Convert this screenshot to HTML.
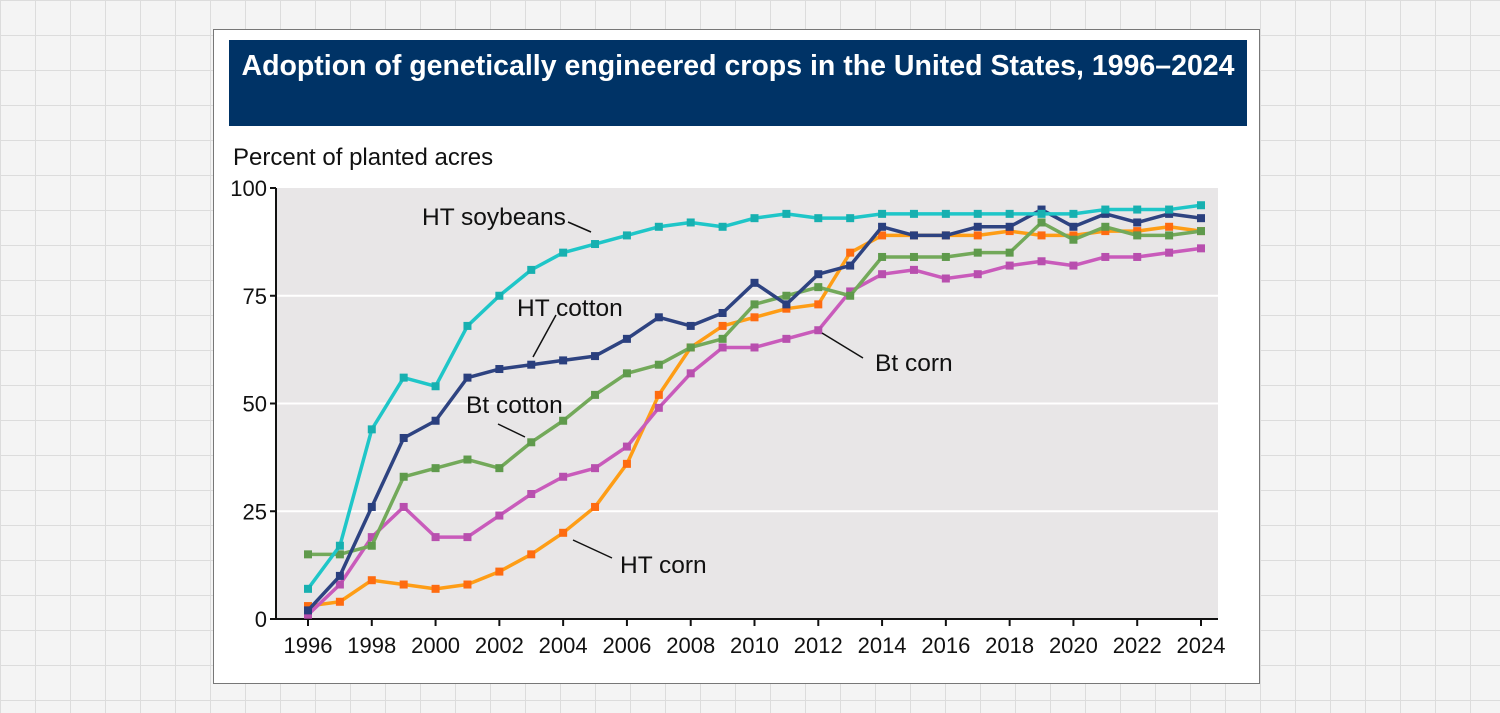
<!DOCTYPE html>
<html><head><meta charset="utf-8"><style>
body{margin:0;width:1500px;height:713px;overflow:hidden;background-color:#f4f4f4;background-image:linear-gradient(#dcdcdc 1px,transparent 1px),linear-gradient(90deg,#dcdcdc 1px,transparent 1px);background-size:35px 35px;font-family:"Liberation Sans",Arial,sans-serif;}
#card{position:absolute;left:213px;top:29px;width:1045px;height:653px;background:#fff;border:1px solid #777;}
#title{position:absolute;left:229px;top:40px;width:1018px;height:86px;background:#003366;color:#fff;font-weight:bold;font-size:28.5px;line-height:52px;text-align:center;white-space:nowrap;}
svg{position:absolute;left:0;top:0;}
</style></head><body>
<div id="card"></div>
<div id="title">Adoption of genetically engineered crops in the United States, 1996–2024</div>
<svg id="chart" width="1500" height="713"></svg>
<script>
const years=[1996,1997,1998,1999,2000,2001,2002,2003,2004,2005,2006,2007,2008,2009,2010,2011,2012,2013,2014,2015,2016,2017,2018,2019,2020,2021,2022,2023,2024];
const htSoybeans=[7,17,44,56,54,68,75,81,85,87,89,91,92,91,93,94,93,93,94,94,94,94,94,94,94,95,95,95,96];
const htCotton=[2,10,26,42,46,56,58,59,60,61,65,70,68,71,78,73,80,82,91,89,89,91,91,95,91,94,92,94,93];
const btCotton=[15,15,17,33,35,37,35,41,46,52,57,59,63,65,73,75,77,75,84,84,84,85,85,92,88,91,89,89,90];
const btCorn=[1,8,19,26,19,19,24,29,33,35,40,49,57,63,63,65,67,76,80,81,79,80,82,83,82,84,84,85,86];
const htCorn=[3,4,9,8,7,8,11,15,20,26,36,52,63,68,70,72,73,85,89,89,89,89,90,89,89,90,90,91,90];
const yTicks=[0,25,50,75,100];
const xTicks=[1996,1998,2000,2002,2004,2006,2008,2010,2012,2014,2016,2018,2020,2022,2024];
const NS='http://www.w3.org/2000/svg';
const svg=document.getElementById('chart');
const L=276,R=1218,T=188,B=619;
const x=y=>308+(y-1996)*(1201-308)/28;
const yv=v=>B-(v/100)*(B-T);
function el(t,a,p){const e=document.createElementNS(NS,t);for(const k in a)e.setAttribute(k,a[k]);(p||svg).appendChild(e);return e;}
const bg=el('rect',{x:L,y:T,width:R-L,height:B-T,fill:'#e8e6e7'});


yTicks.forEach(v=>{
  if(v>0&&v<100){const g=el('line',{x1:L,x2:R,y1:yv(v),y2:yv(v),stroke:'#fff','stroke-width':2});
  
  }
  const t=el('text',{x:L-9,y:yv(v)+8,'text-anchor':'end','font-size':22,fill:'#111'});t.textContent=v;
  
  
  el('line',{x1:L-6,x2:L,y1:yv(v),y2:yv(v),stroke:'#111','stroke-width':2});
});
xTicks.forEach(v=>{
  el('line',{x1:x(v),x2:x(v),y1:B,y2:B+7,stroke:'#111','stroke-width':2});
  const t=el('text',{x:x(v),y:B+34,'text-anchor':'middle','font-size':22,fill:'#111'});t.textContent=v;
  
  
});
el('line',{x1:L,x2:L,y1:T,y2:B+1,stroke:'#111','stroke-width':2});
el('line',{x1:L-1,x2:R,y1:B,y2:B,stroke:'#111','stroke-width':2});
const yt=el('text',{x:233,y:165,'font-size':24,fill:'#111'});yt.textContent='Percent of planted acres';


const series=[['ht-corn',htCorn,'#fe9d16','#fe6b10'],['bt-corn',btCorn,'#c95bbb','#b84fae'],['bt-cotton',btCotton,'#73a95a','#5f9a4c'],['ht-cotton',htCotton,'#2e4381','#2a3f7e'],['ht-soybeans',htSoybeans,'#1fc6c8','#17b0b0']];
series.forEach(([n,d,c,mc])=>{
  const g=el('g',{});
  
  
  el('polyline',{points:d.map((v,i)=>x(years[i])+','+yv(v)).join(' '),fill:'none',stroke:c,'stroke-width':3.5,'stroke-linejoin':'round'},g);
  d.forEach((v,i)=>{const m=el('rect',{x:x(years[i])-4,y:yv(v)-4,width:8,height:8,fill:mc},g);
    
    });
});
const labels=[['HT soybeans',422,225,568,222,591,232],['HT cotton',517,316,556,315,533,357],['Bt cotton',466,413,498,424,525,437],['HT corn',620,573,612,558,573,540],['Bt corn',875,371,863,358,822,333]];
labels.forEach(([s,tx,ty,a,b,c,d])=>{
  el('line',{x1:a,y1:b,x2:c,y2:d,stroke:'#111','stroke-width':1.5});
  const t=el('text',{x:tx,y:ty,'font-size':24.5,fill:'#111'});t.textContent=s;
  
  
});
</script>
</body></html>
